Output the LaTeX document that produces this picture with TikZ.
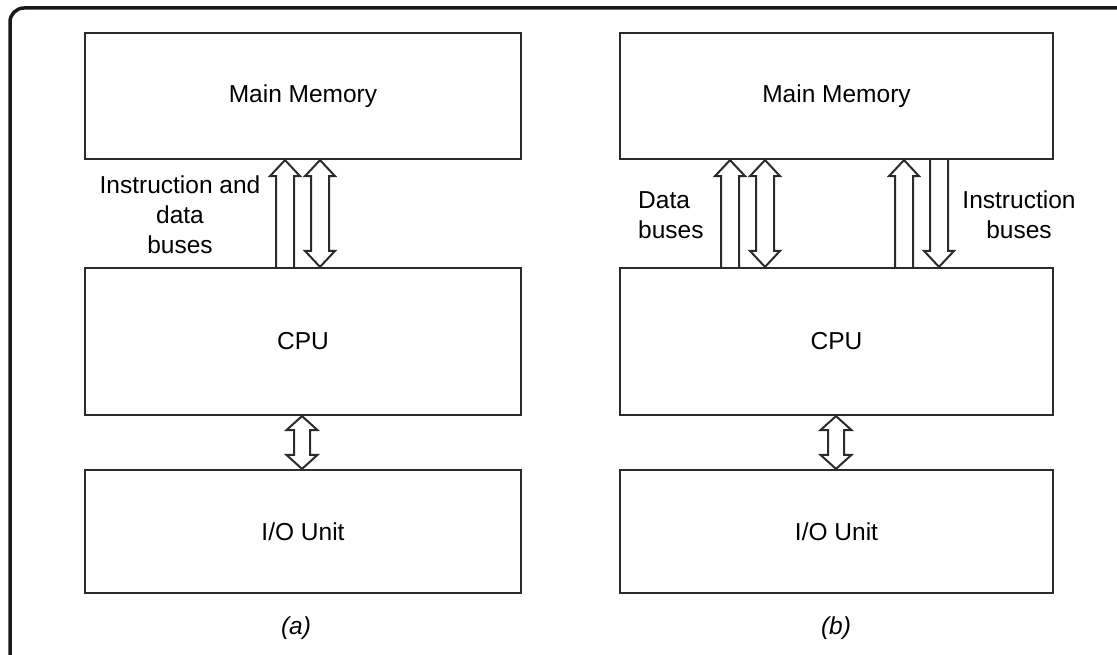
\documentclass[tikz,border=0pt]{standalone}
\usepackage{fontspec}
\setmainfont{Liberation Sans}
\usetikzlibrary{calc}
\definecolor{ink}{HTML}{2B2B2B}
\tikzset{
  box/.style={draw=ink, line width=2.2pt, inner sep=0pt, font=\fontsize{24.5}{30}\selectfont},
  lbl/.style={inner sep=0pt, font=\fontsize{24.5}{30}\selectfont},
  bus/.style={draw=ink, line width=2pt, line join=miter},
}
% #1 x, #2 upper node, #3 lower node : arrow pointing up
\newcommand\busUp[3]{%
  \coordinate (t) at (#1,0 |- #2.south);
  \coordinate (b) at (#1,0 |- #3.north);
  \draw[bus] ($(b)+(-9,0)$) -- ($(t)+(-9,16)$) -- ($(t)+(-15,16)$) -- (t)
     -- ($(t)+(15,16)$) -- ($(t)+(9,16)$) -- ($(b)+(9,0)$);}
% arrow pointing down
\newcommand\busDown[3]{%
  \coordinate (t) at (#1,0 |- #2.south);
  \coordinate (b) at (#1,0 |- #3.north);
  \draw[bus] ($(t)+(-9,0)$) -- ($(b)+(-9,-16)$) -- ($(b)+(-15,-16)$) -- (b)
     -- ($(b)+(15,-16)$) -- ($(b)+(9,-16)$) -- ($(t)+(9,0)$);}
% double arrow: #1 x, #2 upper node, #3 lower node, #4 half shaft, #5 half head, #6 head length
\newcommand\busBoth[6]{%
  \coordinate (t) at (#1,0 |- #2.south);
  \coordinate (b) at (#1,0 |- #3.north);
  \draw[bus] (t) -- ($(t)+(#5,#6)$) -- ($(t)+(#4,#6)$) -- ($(b)+(#4,-#6)$)
     -- ($(b)+(#5,-#6)$) -- (b) -- ($(b)+(-#5,-#6)$) -- ($(b)+(-#4,-#6)$)
     -- ($(t)+(-#4,#6)$) -- ($(t)+(-#5,#6)$) -- cycle;}
\begin{document}
\begin{tikzpicture}[x=1pt,y=-1pt]
\useasboundingbox (0,0) rectangle (1117,655);
\draw[line width=3.5pt, draw=black!90, rounded corners=14pt] (10,8) rectangle (1135,675);
% (a)
\node[box, minimum width=436pt, minimum height=126pt] (mmL) at (303,96) {Main Memory};
\node[box, minimum width=436pt, minimum height=147pt] (cpuL) at (303,341.5) {CPU};
\node[box, minimum width=436pt, minimum height=123pt] (ioL) at (303,531.5) {I/O Unit};
\busUp{285}{mmL}{cpuL}
\busBoth{320}{mmL}{cpuL}{9}{15}{16}
\busBoth{302}{cpuL}{ioL}{8}{15.5}{14}
\node[lbl, align=center] (tl) at (180,215) {Instruction and\\data\\buses};
\node[lbl] (capa) at (296,628) {\itshape (a)};
% (b)
\node[box, minimum width=433pt, minimum height=126pt] (mmR) at (836.5,96) {Main Memory};
\node[box, minimum width=433pt, minimum height=147pt] (cpuR) at (836.5,341.5) {CPU};
\node[box, minimum width=433pt, minimum height=123pt] (ioR) at (836.5,531.5) {I/O Unit};
\busUp{730}{mmR}{cpuR}
\busBoth{765}{mmR}{cpuR}{9}{15}{16}
\busUp{904}{mmR}{cpuR}
\busDown{939}{mmR}{cpuR}
\busBoth{836}{cpuR}{ioR}{8}{15.5}{14}
\node[lbl, align=left, anchor=west] (tr1) at (638,215) {Data\\buses};
\node[lbl, align=center] (tr2) at (1019,215) {Instruction\\buses};
\node[lbl] (capb) at (836,628) {\itshape (b)};
\end{tikzpicture}
\end{document}
